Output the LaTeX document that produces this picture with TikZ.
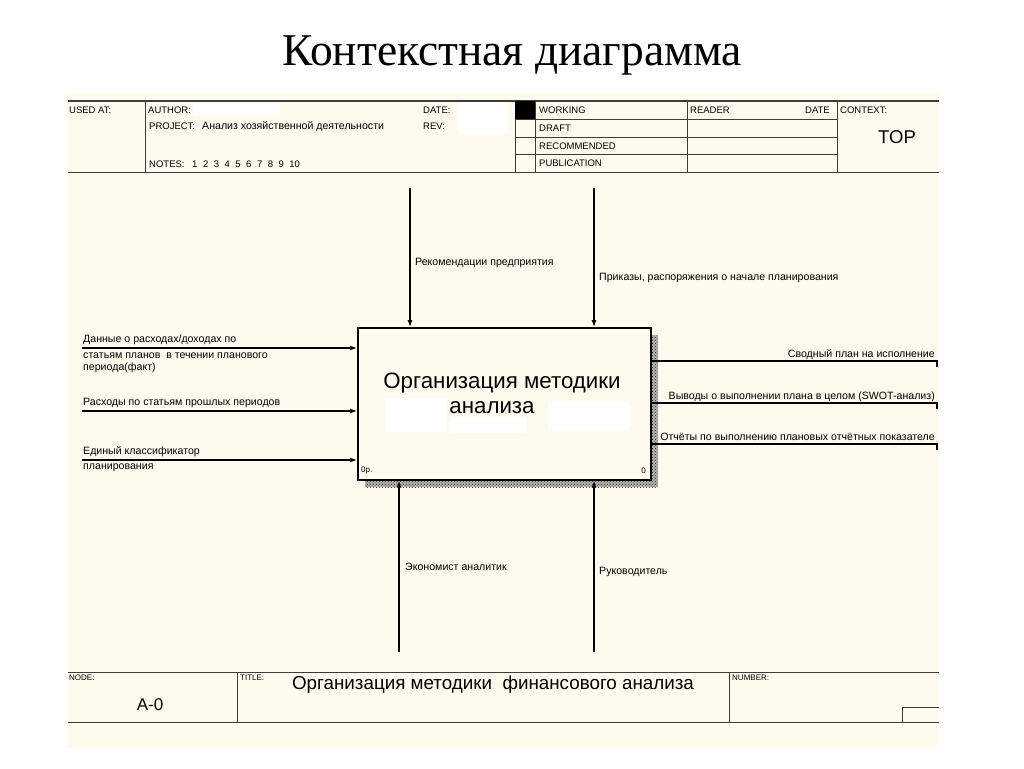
\documentclass[tikz,border=0pt]{standalone}
\usepackage{fontspec}
\setmainfont{Liberation Sans}
\newfontfamily\titleserif{Liberation Serif}
\usetikzlibrary{arrows.meta,patterns}
\definecolor{cream}{RGB}{254,250,238}
\definecolor{frame}{RGB}{60,60,60}
\begin{document}
\begin{tikzpicture}[x=1pt,y=-1pt,
  hdr/.style={font=\fontsize{9.5}{11}\selectfont, inner sep=0pt, anchor=west},
  lbl/.style={font=\fontsize{10.6}{12}\selectfont, inner sep=0pt, anchor=west},
  rlbl/.style={lbl, anchor=east},
  small/.style={font=\fontsize{8}{9}\selectfont, inner sep=0pt, anchor=west},
  frameline/.style={draw=frame, line width=1pt},
  arr/.style={draw=black, line width=1.2pt, -{Latex[length=7pt,width=5pt]}},
  outline/.style={draw=black, line width=1.2pt},
  mask/.style={fill=white, draw=none},
  shadow/.style={fill=black!30, postaction={pattern=crosshatch dots, pattern color=black!85}},
]
\useasboundingbox (0,0) rectangle (1024,768);
\fill[white] (0,0) rectangle (1024,768);
\fill[cream] (67,93) rectangle (939,748);

% page title
\node[font=\titleserif\fontsize{45.5}{50}\selectfont, inner sep=0pt] (title) at (512,55) {Контекстная диаграмма};

% ---------- header ----------
\fill[mask] (193,104) rectangle (280,116);
\fill[mask] (458,102) rectangle (507,134);
\draw[draw=frame, line width=1.8pt] (68,101) -- (939,101);
\draw[frameline] (68,172) -- (939,172);
\draw[frameline] (145,101) -- (145,172);
\draw[frameline] (515,101) -- (515,172);
\draw[frameline] (535,101) -- (535,172);
\draw[frameline] (687,101) -- (687,172);
\draw[frameline] (837,101) -- (837,172);
\foreach \yy in {119,137,154.5} \draw[frameline] (515,\yy) -- (837,\yy);
\fill[black] (515,101) rectangle (535,119);

\node[hdr] (usedat) at (69,110) {USED AT:};
\node[hdr] (author) at (148,110) {AUTHOR:};
\node[hdr] (project) at (149,126) {PROJECT:};
\node[hdr, font=\fontsize{10.6}{12}\selectfont] (projname) at (202,126.5) {Анализ хозяйственной деятельности};
\node[hdr] (notes) at (149,164) {NOTES:};
\foreach \n [count=\i from 0] in {1,2,3,4,5,6,7,8,9,10}
  \node[hdr] (note\n) at (192+10.8*\i,164) {\n};
\node[hdr] (date) at (423,110) {DATE:};
\node[hdr] (rev) at (423,126) {REV:};
\node[hdr] (working) at (539,110) {WORKING};
\node[hdr] (draft) at (539,128) {DRAFT};
\node[hdr] (recommended) at (539,146) {RECOMMENDED};
\node[hdr] (publication) at (539,163) {PUBLICATION};
\node[hdr] (reader) at (690,110) {READER};
\node[hdr, anchor=east] (rdate) at (830,110) {DATE};
\node[hdr] (context) at (840,110) {CONTEXT:};
\node[font=\fontsize{18.5}{20}\selectfont, inner sep=0pt] (top) at (897,137) {TOP};

% ---------- activity box ----------
\path[shadow] (650,335) rectangle (658,487);
\path[shadow] (365,479) rectangle (650,487);
\fill[mask] (385,398) rectangle (447,432);
\fill[mask] (450,418) rectangle (527,433);
\fill[mask] (548,402) rectangle (630,430);
\node[draw=black, line width=1.7pt, minimum width=293pt, minimum height=152pt,
      inner sep=0pt, anchor=north west] (P) at (357,327) {};
\node[font=\fontsize{22.3}{25}\selectfont, inner sep=0pt] (ptext1) at (502,383) {Организация методики};
\node[font=\fontsize{22.3}{25}\selectfont, inner sep=0pt] (ptext2) at (492,408) {анализа};
\node[small] (pnum) at (361,471) {0р.};
\node[small, anchor=east] (pno) at (646,471) {0};

% ---------- controls ----------
\coordinate (c1) at (410,188);
\coordinate (c2) at (594,188);
\draw[arr] (c1) -- (c1 |- P.north);
\draw[arr] (c2) -- (c2 |- P.north);
\node[lbl] (c1l) at (415,263) {Рекомендации предприятия};
\node[lbl] (c2l) at (599,278) {Приказы, распоряжения о начале планирования};

% ---------- inputs ----------
\coordinate (i1) at (82,348);
\coordinate (i2) at (82,411);
\coordinate (i3) at (82,460);
\draw[arr] (i1) -- (i1 -| P.west);
\draw[arr] (i2) -- (i2 -| P.west);
\draw[arr] (i3) -- (i3 -| P.west);
\node[lbl] (i1a) at (83,340) {Данные о расходах/доходах по};
\node[lbl] (i1b) at (83,356) {статьям планов\ \ в течении планового};
\node[lbl] (i1c) at (83,368) {периода(факт)};
\node[lbl] (i2l) at (83,403) {Расходы по статьям прошлых периодов};
\node[lbl] (i3a) at (83,452) {Единый классификатор};
\node[lbl] (i3b) at (83,467.5) {планирования};

% ---------- outputs ----------
\coordinate (o1) at (937,361);
\coordinate (o2) at (937,403);
\coordinate (o3) at (937,444);
\foreach \o in {o1,o2,o3}{
  \draw[outline] (\o -| P.east) -- (\o);
  \draw[black, line width=2.2pt] ([yshift=1pt]\o) -- ([yshift=-6pt]\o);
}
\node[rlbl] (o1l) at (935,355) {Сводный план на исполнение};
\node[rlbl] (o2l) at (935,397) {Выводы о выполнении плана в целом (SWOT-анализ)};
\node[rlbl] (o3l) at (935,437) {Отчёты по выполнению плановых отчётных показателе};

% ---------- mechanisms ----------
\coordinate (m1) at (399,652);
\coordinate (m2) at (594,652);
\draw[arr] (m1) -- (m1 |- P.south);
\draw[arr] (m2) -- (m2 |- P.south);
\node[lbl] (m1l) at (405,567) {Экономист аналитик};
\node[lbl] (m2l) at (599,572) {Руководитель};

% ---------- footer ----------
\draw[frameline] (68,672) -- (939,672);
\draw[frameline] (68,722) -- (939,722);
\draw[frameline] (237,672) -- (237,722);
\draw[frameline] (729,672) -- (729,722);
\draw[frameline] (902,722) -- (902,707) -- (939,707);
\node[small] (nodel) at (69,678) {NODE:};
\node[font=\fontsize{17}{19}\selectfont, inner sep=0pt] (a0) at (150,705) {A-0};
\node[small] (titlel) at (240,678) {TITLE:};
\node[font=\fontsize{18.8}{21}\selectfont, inner sep=0pt] (ftitle) at (493,685) {Организация методики\ \ финансового анализа};
\node[small] (numberl) at (732,678) {NUMBER:};
\end{tikzpicture}
\end{document}
